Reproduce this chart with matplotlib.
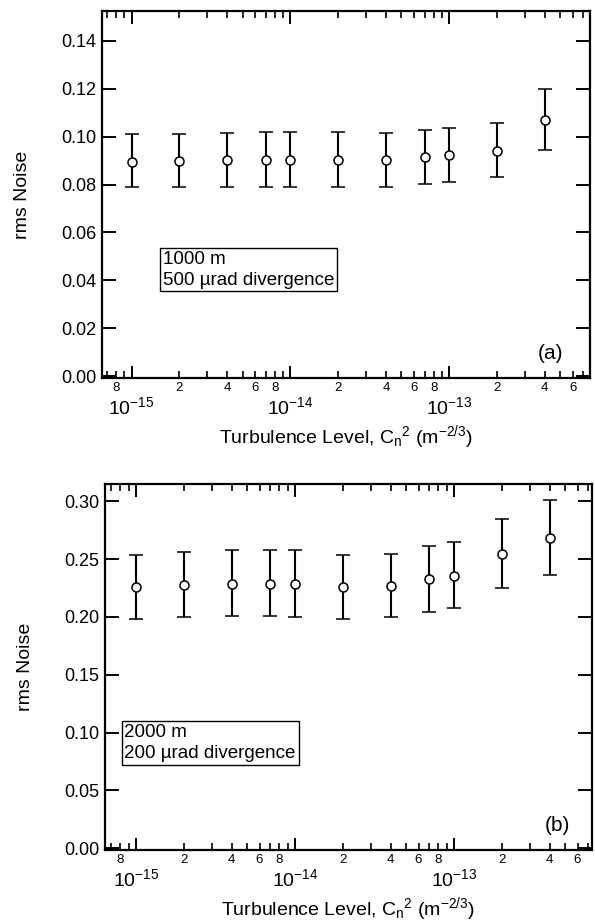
import numpy as np
import matplotlib
matplotlib.use('Agg')
import matplotlib.pyplot as plt
from matplotlib.ticker import FixedLocator, FuncFormatter

plt.rcParams['font.family'] = ['Liberation Sans', 'DejaVu Sans']
plt.rcParams['mathtext.default'] = 'regular'
plt.rcParams['axes.unicode_minus'] = False

# turbulence level Cn^2 (m^-2/3)
cn2 = [1e-15, 2e-15, 4e-15, 7e-15, 1e-14, 2e-14, 4e-14, 7e-14, 1e-13, 2e-13, 4e-13]

# panel (a): 1000 m, 500 urad divergence
noise_a = [0.0896, 0.0900, 0.0902, 0.0904, 0.0904, 0.0904, 0.0904, 0.0914, 0.0922, 0.0942, 0.1071]
upper_a = [0.1010, 0.1011, 0.1017, 0.1020, 0.1020, 0.1020, 0.1017, 0.1028, 0.1035, 0.1058, 0.1199]
lower_a = [0.0789, 0.0789, 0.0790, 0.0790, 0.0790, 0.0789, 0.0790, 0.0803, 0.0810, 0.0830, 0.0943]

# panel (b): 2000 m, 200 urad divergence
noise_b = [0.2260, 0.2278, 0.2286, 0.2289, 0.2283, 0.2260, 0.2269, 0.2330, 0.2355, 0.2546, 0.2685]
upper_b = [0.2538, 0.2558, 0.2578, 0.2581, 0.2575, 0.2538, 0.2546, 0.2613, 0.2647, 0.2847, 0.3012]
lower_b = [0.1986, 0.1997, 0.2006, 0.2006, 0.2003, 0.1986, 0.1997, 0.2046, 0.2075, 0.2254, 0.2364]

decades = [1e-15, 1e-14, 1e-13]
decade_labels = ['$10^{-15}$', '$10^{-14}$', '$10^{-13}$']

W, H = 595, 922
fig = plt.figure(figsize=(W / 100, H / 100), dpi=100)


def minor_label(x, pos):
    m = round(x / 10 ** np.floor(np.log10(x) + 1e-9))
    return str(m) if m in (2, 4, 6, 8) else ''


def panel(rect, y, lo, hi, xlim, ylim, yticks, label, boxpos, tag, tagpos):
    ax = fig.add_axes(rect)
    y = np.array(y)
    yerr = [y - np.array(lo), np.array(hi) - y]
    ax.errorbar(cn2, y, yerr=yerr, fmt='o', mfc='white', mec='black', mew=1.1,
                ms=6.5, ecolor='black', elinewidth=1.5, capsize=5, capthick=1.5,
                color='black')
    ax.set_xscale('log')
    ax.set_xlim(*xlim)
    ax.set_ylim(*ylim)
    ax.yaxis.set_major_locator(FixedLocator(yticks))
    ax.yaxis.set_major_formatter(FuncFormatter(lambda v, p: '%.2f' % v))

    # decade ticks and 2..9 minor ticks, only those inside the axis range
    minors = [m * d for d in [1e-16] + decades for m in range(2, 10)]
    minors = [v for v in minors if xlim[0] <= v <= xlim[1]]
    ax.xaxis.set_major_locator(FixedLocator(decades))
    ax.xaxis.set_major_formatter(FuncFormatter(lambda v, p: decade_labels[p]))
    ax.xaxis.set_minor_locator(FixedLocator(minors))
    ax.xaxis.set_minor_formatter(FuncFormatter(minor_label))

    for s in ax.spines.values():
        s.set_linewidth(1.6)
    ax.tick_params(axis='y', which='major', direction='in', left=True, right=True,
                   length=10, width=1.4, labelsize=13, pad=4)
    ax.tick_params(axis='x', which='major', direction='in', top=True, bottom=True,
                   length=9, width=1.4, labelsize=14, pad=13)
    ax.tick_params(axis='x', which='minor', direction='in', top=True, bottom=True,
                   length=5, width=1.2, labelsize=9.5, pad=3)
    ax.set_ylabel('rms Noise', fontsize=14, labelpad=22)
    ax.set_xlabel('Turbulence Level, C$_n$$^{2}$ (m$^{-2/3}$)', fontsize=14, labelpad=4)
    ax.text(boxpos[0], boxpos[1], label, transform=ax.transAxes, fontsize=13.5,
            va='center', ha='left', linespacing=1.3,
            bbox=dict(boxstyle='square,pad=0.15', fc='white', ec='black', lw=1))
    ax.text(tagpos[0], tagpos[1], tag, transform=ax.transAxes, fontsize=15,
            ha='center', va='center')
    return ax


panel([102 / W, 1 - 378 / H, 488 / W, 367 / H], noise_a, lower_a, upper_a,
      (6.5e-16, 7.7e-13), (-0.0008, 0.1525), np.arange(0, 0.141, 0.02),
      '1000 m\n500 \u00b5rad divergence', (0.125, 0.295), '(a)', (0.920, 0.066))

panel([105 / W, 1 - 850 / H, 487 / W, 366 / H], noise_b, lower_b, upper_b,
      (6.4e-16, 7.4e-13), (-0.0015, 0.315), np.arange(0, 0.301, 0.05),
      '2000 m\n200 \u00b5rad divergence', (0.040, 0.292), '(b)', (0.930, 0.066))

fig.savefig('out.png', dpi=100)
